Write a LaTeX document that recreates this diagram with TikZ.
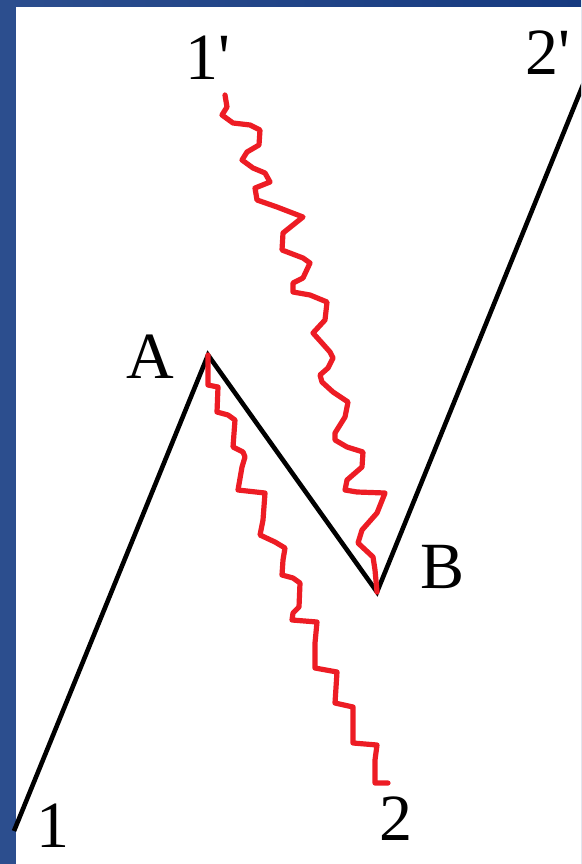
\documentclass[tikz,border=0pt]{standalone}
\usepackage{fontspec}
\setmainfont{Liberation Serif}
\definecolor{wavered}{RGB}{237,28,36}
\definecolor{bordL}{RGB}{44,78,142}
\definecolor{bordR}{RGB}{22,58,128}
\begin{document}
\begin{tikzpicture}[x=1pt,y=-1pt,
  worldline/.style={line width=4.6pt,black,line join=miter},
  wiggle/.style={line width=5.2pt,wavered,line join=round,line cap=round},
  lbl/.style={anchor=base west,inner sep=0pt,font=\fontsize{66}{66}\selectfont}]
\useasboundingbox (0,0) rectangle (581,864);
\clip (0,0) rectangle (581,864);
\shade[left color=bordL,right color=bordR] (0,0) rectangle (581,864);
\fill[white] (16,7) rectangle (581,864);
% points
\coordinate (P1) at (14,831);
\coordinate (A) at (208,355);
\coordinate (B) at (377,592);
\coordinate (P2) at (585,80);
\coordinate (W1) at (225,95);
\coordinate (W2) at (388,783);
% black world line
\draw[worldline] (P1) -- (A) -- (B) -- (P2);
% red wiggles
\draw[wiggle] (W1) -- (227,107) -- (222,115) -- (233,123) -- (250,125) -- (260,130) -- (259,145) -- (247,152) -- (242,160) -- (253,168) -- (265,173) -- (270,182) -- (255,188) -- (257,200) -- (277,207) -- (303,217) -- (283,233) -- (282,250) -- (303,258) -- (310,263) -- (303,278) -- (293,283) -- (293,292) -- (310,295) -- (327,302) -- (325,320) -- (313,333) -- (322,343) -- (330,352) -- (333,358) -- (328,368) -- (320,375) -- (322,382) -- (333,392) -- (348,402) -- (345,417) -- (335,433) -- (335,440) -- (347,447) -- (363,452) -- (362,467) -- (347,480) -- (345,490) -- (357,492) -- (385,493) -- (377,513) -- (362,530) -- (358,543) -- (373,557) -- (375,570) -- (B);
\draw[wiggle] (A) -- (208,385) -- (218,387) -- (217,412) -- (228,415) -- (235,420) -- (233,447) -- (243,452) -- (245,457) -- (242,467) -- (238,490) -- (265,493) -- (263,520) -- (260,535) -- (275,542) -- (285,548) -- (283,560) -- (282,575) -- (293,578) -- (300,583) -- (299,607) -- (293,613) -- (292,620) -- (317,622) -- (315,643) -- (315,668) -- (337,672) -- (335,703) -- (353,707) -- (353,743) -- (377,745) -- (375,760) -- (375,783) -- (W2);
% labels
\node[lbl] (l1p) at (185,80) {1\textquotesingle};
\node[lbl] (l2p) at (525,75) {2\textquotesingle};
\node[lbl] (l1) at (36,847) {1};
\node[lbl] (l2) at (379,840) {2};
\node[lbl] (lA) at (126,378) {A};
\node[lbl] (lB) at (420,588) {B};
\end{tikzpicture}
\end{document}
